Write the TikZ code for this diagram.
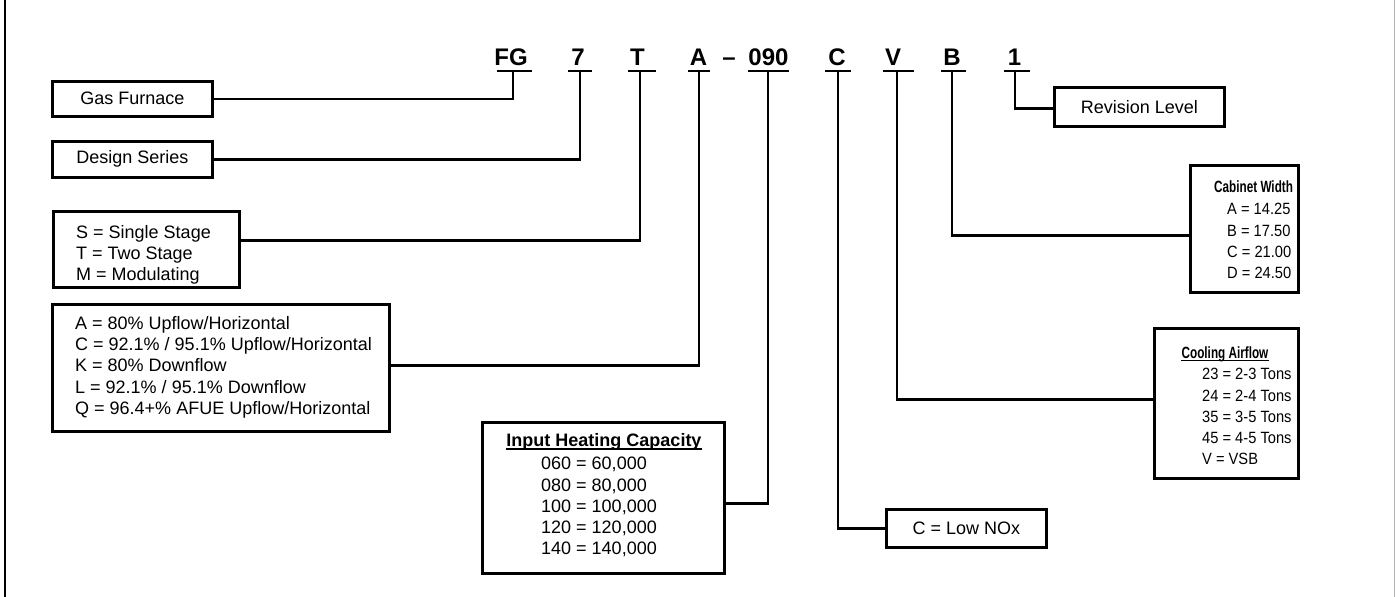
\documentclass[tikz,border=0pt]{standalone}
\usepackage{fontspec}
\setmainfont{Liberation Sans}
\newfontfamily\narrowsans[FakeStretch=0.9]{Liberation Sans}
\newfontfamily\narrowbold[FakeStretch=0.72]{Liberation Sans Bold}
\begin{document}
\begin{tikzpicture}[x=1pt,y=-1pt,
  box/.style={draw, line width=2.6pt, inner sep=0pt, anchor=north west, font=\fontsize{18}{21.3}\selectfont},
  conn/.style={line width=2.6pt},
  txt/.style={inner sep=0pt, anchor=north west, align=left, font=\fontsize{18}{21.3}\selectfont},
  rtxt/.style={inner sep=0pt, anchor=north west, align=left, font=\narrowsans\fontsize{16.3}{21.3}\selectfont},
  ttl/.style={inner sep=0pt, anchor=base, font=\bfseries\fontsize{18}{21.3}\selectfont},
  rttl/.style={inner sep=0pt, anchor=base, font=\narrowbold\fontsize{16.3}{21.3}\selectfont},
  code/.style={inner sep=0pt, anchor=base, font=\bfseries\fontsize{24}{24}\selectfont}]
\useasboundingbox (0,0) rectangle (1395,597);
\draw[line width=2pt] (5,0) coordinate (fa) -- (5,597) coordinate (fb);
\draw[line width=1pt, gray!60] (1394,0) coordinate (fc) -- (1394,597) coordinate (fd);

% model code letters
\node[code] (fg) at (511,65) {FG};
\node[code] (s7) at (578,65) {7};
\node[code] (st) at (637.5,65) {T};
\node[code] (sa) at (698.5,65) {A};
\node[code] (dash) at (729,65) {--};
\node[code] (cap) at (768.5,65) {090};
\node[code] (sc) at (837,65) {C};
\node[code] (sv) at (893,65) {V};
\node[code] (sb) at (952,65) {B};
\node[code] (s1) at (1014.5,65) {1};

\coordinate (fgu) at (513,71);
\coordinate (s7u) at (580,71);
\coordinate (stu) at (640,71);
\coordinate (sau) at (699,71);
\coordinate (capu) at (768,71);
\coordinate (scu) at (838,71);
\coordinate (svu) at (897,71);
\coordinate (sbu) at (952,71);
\coordinate (s1u) at (1015,71);

\draw[conn] ([xshift=-16pt]fgu) -- ([xshift=19pt]fgu);
\draw[conn] ([xshift=-12pt]s7u) -- ([xshift=12pt]s7u);
\draw[conn] ([xshift=-12pt]stu) -- ([xshift=16pt]stu);
\draw[conn] ([xshift=-11pt]sau) -- ([xshift=11pt]sau);
\draw[conn] ([xshift=-20pt]capu) -- ([xshift=21pt]capu);
\draw[conn] ([xshift=-13pt]scu) -- ([xshift=13pt]scu);
\draw[conn] ([xshift=-14pt]svu) -- ([xshift=17pt]svu);
\draw[conn] ([xshift=-11pt]sbu) -- ([xshift=14pt]sbu);
\draw[conn] ([xshift=-11pt]s1u) -- ([xshift=15pt]s1u);

% boxes
\node[box, minimum width=160pt, minimum height=35pt] (gas) at (51,80) {Gas Furnace};
\node[box, minimum width=160pt, minimum height=36pt] (design) at (51,140) {Design Series};
\node[box, minimum width=186pt, minimum height=76pt] (stage) at (52,210) {};
\node[box, minimum width=337pt, minimum height=127pt] (abox) at (51,303) {};
\node[box, minimum width=242pt, minimum height=151pt] (capbox) at (481,421) {};
\node[box, minimum width=160pt, minimum height=38pt] (nox) at (885,508) {C = Low NOx};
\node[box, minimum width=144pt, minimum height=150pt] (cool) at (1153,327) {};
\node[box, minimum width=108pt, minimum height=127pt] (cab) at (1189,164) {};
\node[box, minimum width=170pt, minimum height=39pt] (rev) at (1053,86) {Revision Level};

% box texts
\node[txt] (stagetxt) at (76,223.1) {\strut S = Single Stage\\T = Two Stage\\M = Modulating};
\node[txt, font=\fontsize{18}{21.2}\selectfont] (atxt) at (75,314.5) {\strut A = 80\% Upflow/Horizontal\\C = 92.1\% / 95.1\% Upflow/Horizontal\\K = 80\% Downflow\\L = 92.1\% / 95.1\% Downflow\\Q = 96.4+\% AFUE Upflow/Horizontal};
\node[ttl] (captitle) at (604,446.5) {Input Heating Capacity};
\draw[line width=1.4pt] ([yshift=-2.5pt]captitle.base west) -- ([yshift=-2.5pt]captitle.base east);
\node[txt] (captxt) at (541,454.6) {\strut 060 = 60,000\\080 = 80,000\\100 = 100,000\\120 = 120,000\\140 = 140,000};
\node[rttl] (cooltitle) at (1225,358) {Cooling Airflow};
\draw[line width=1.3pt] ([yshift=-2.5pt]cooltitle.base west) -- ([yshift=-2.5pt]cooltitle.base east);
\node[rtxt] (cooltxt) at (1202,364.6) {\strut 23 = 2-3 Tons\\24 = 2-4 Tons\\35 = 3-5 Tons\\45 = 4-5 Tons\\V = VSB};
\node[rttl, anchor=base west] (cabtitle) at (1214,192.5) {Cabinet Width};
\node[rtxt] (cabtxt) at (1227,199.6) {\strut A = 14.25\\B = 17.50\\C = 21.00\\D = 24.50};

% connectors
\draw[conn] (gas.east) -| (fgu);
\draw[conn] (design.east) -| (s7u);
\draw[conn] ([yshift=9pt]stage.east) -| (stu);
\draw[conn] ([yshift=2.5pt]abox.east) -| (sau);
\draw[conn] ([yshift=-5.5pt]capbox.east) -| (capu);
\draw[conn] (nox.west) -| (scu);
\draw[conn] ([yshift=4pt]cool.west) -| (svu);
\draw[conn] ([yshift=-6.5pt]cab.west) -| (sbu);
\draw[conn] ([yshift=-1.5pt]rev.west) -| (s1u);
\end{tikzpicture}
\end{document}
